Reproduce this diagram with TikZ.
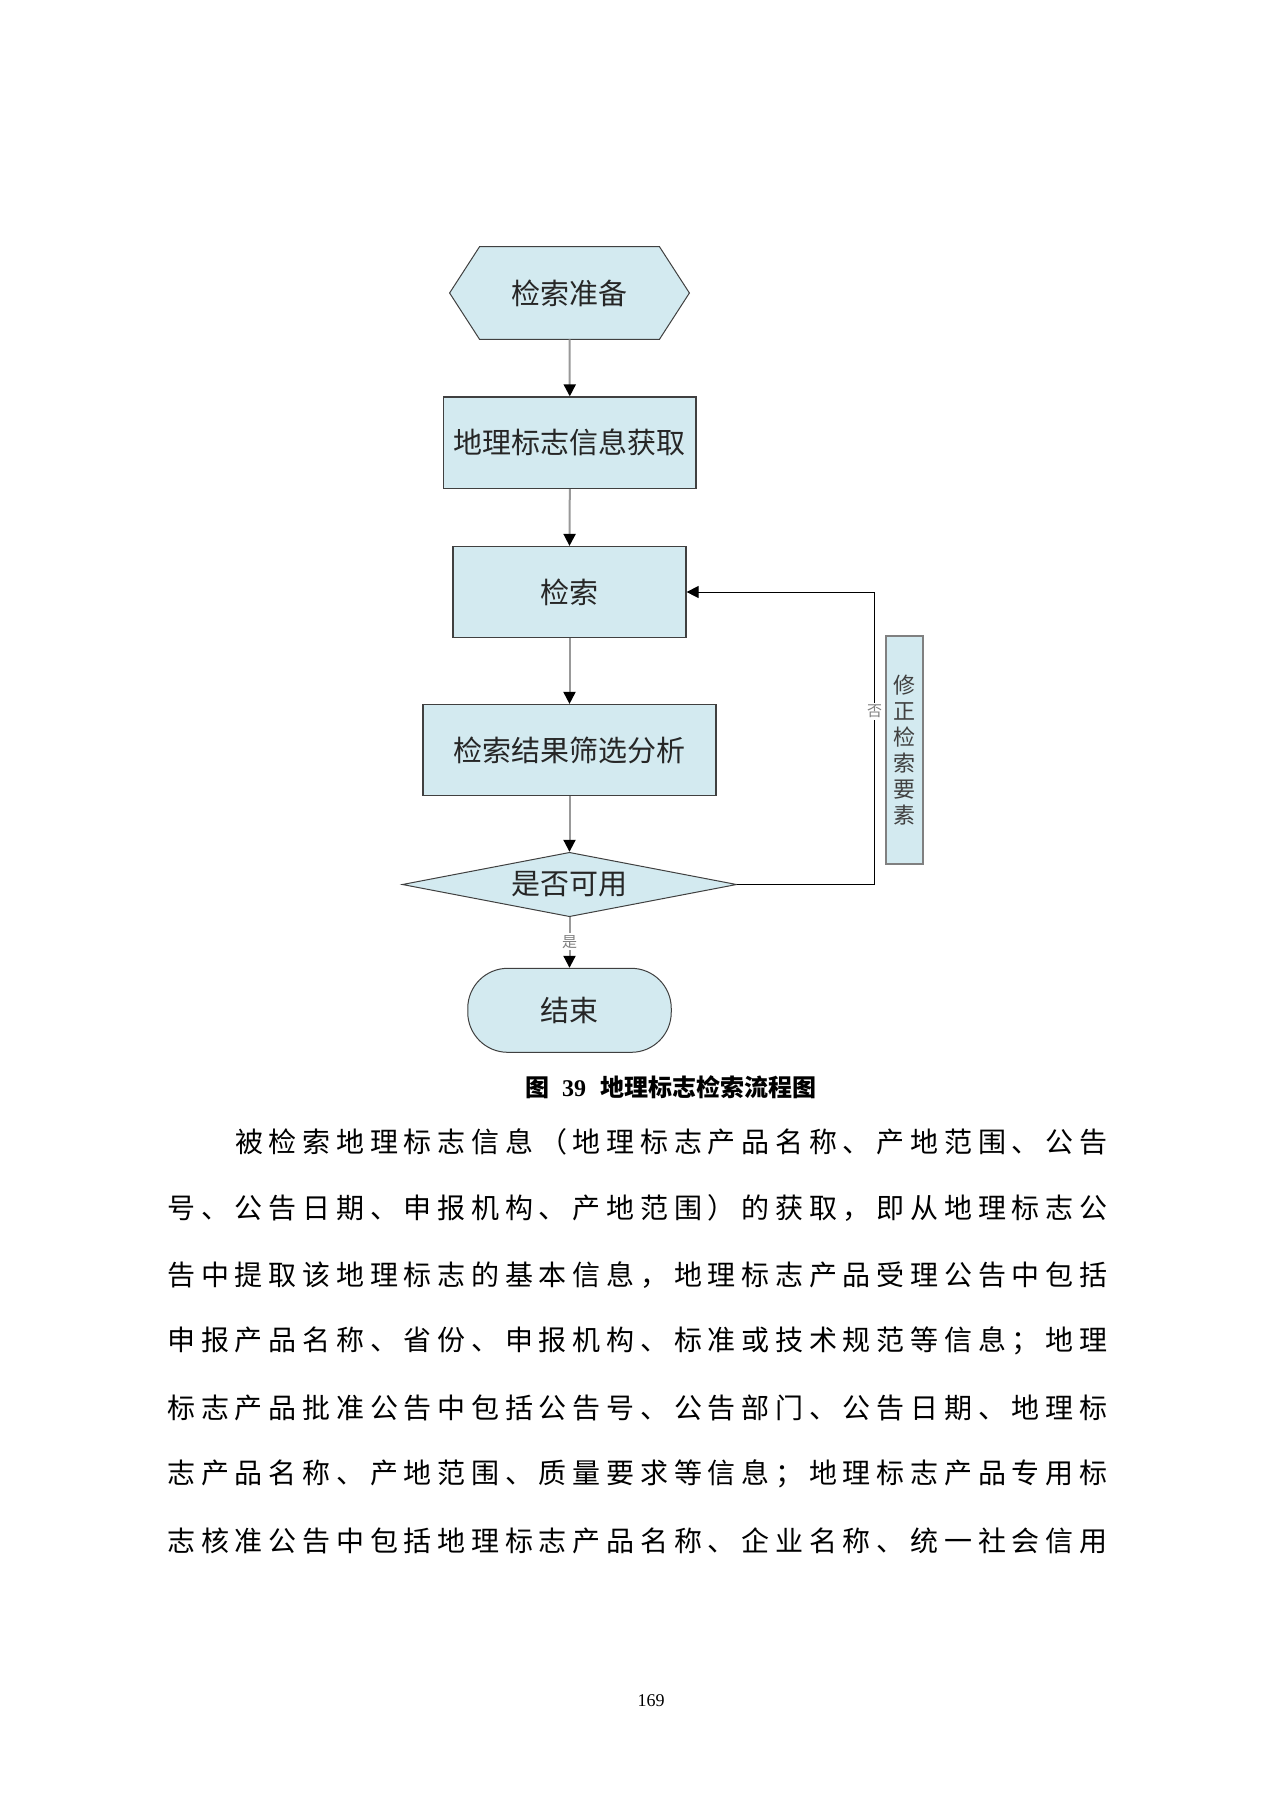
\documentclass[tikz,border=0pt]{standalone}
\usepackage{fontspec}
\setmainfont{Liberation Serif}
\newfontfamily\cjk{Noto Sans CJK SC}
\newfontfamily\tms{Liberation Serif}
\usetikzlibrary{arrows.meta,shapes.geometric,backgrounds}
\definecolor{boxfill}{HTML}{D3EAF0}
\definecolor{bdr}{HTML}{404040}
\definecolor{conn}{HTML}{999999}
\definecolor{lblgray}{HTML}{808080}
\def\spr#1{\ifx#1\relax\else#1\hfill\expandafter\spr\fi}
\newcommand\spreadline[2]{\hbox to #1{\spr#2\relax\unskip}}
\begin{document}
\begin{tikzpicture}[x=0.5pt,y=-0.5pt,
  boxtext/.style={font=\cjk\fontsize{14.5pt}{14.5pt}\selectfont, text=black!85},
  procbox/.style={boxtext, draw=bdr, line width=0.6pt, fill=boxfill, inner sep=0pt},
  flow/.style={draw=conn, line width=1pt, -{Triangle[width=6pt,length=6pt,color=black,fill=black]}},
  fb/.style={draw=black, line width=0.5pt, -{Triangle[width=6pt,length=6pt,color=black,fill=black]}},
  lbl/.style={fill=white, inner sep=1pt, text=lblgray, font=\cjk\fontsize{7.5pt}{7.5pt}\selectfont},
  bodyline/.style={anchor=west, inner sep=0pt, font=\cjk\fontsize{14pt}{14pt}\selectfont, text=black},
]
\begin{pgfonlayer}{background}
\fill[white] (0,0) rectangle (1280,1810);
\end{pgfonlayer}
\useasboundingbox (0,0) rectangle (1280,1810);

% start hexagon
\node[boxtext, minimum width=119.5pt, minimum height=46pt, inner sep=0pt] (hex) at (569.5,293) {检索准备};
\begin{pgfonlayer}{background}
\draw[draw=bdr, line width=0.5pt, fill=boxfill] (hex.west) -- ([xshift=15pt]hex.north west) -- ([xshift=-15pt]hex.north east) -- (hex.east) -- ([xshift=-15pt]hex.south east) -- ([xshift=15pt]hex.south west) -- cycle;
\end{pgfonlayer}

\node[procbox, minimum width=126.25pt, minimum height=45.75pt] (b2) at (569.8,442.7) {地理标志信息获取};
\node[procbox, minimum width=116.5pt, minimum height=45.5pt] (b3) at (569.5,592) {检索};
\node[procbox, minimum width=146.5pt, minimum height=45.5pt] (b4) at (569.5,750) {检索结果筛选分析};
\node[boxtext, diamond, aspect=5.2, draw=bdr, line width=0.5pt, fill=boxfill, inner sep=0pt, minimum width=167.25pt, minimum height=32.2pt] (dia) at (569.5,884.5) {是否可用};
\node[boxtext, draw=bdr, line width=0.5pt, fill=boxfill, rounded corners=20pt, inner sep=0pt, minimum width=101.75pt, minimum height=42pt] (end) at (569.5,1010.3) {结束};
\node[draw=lblgray, line width=1pt, fill=boxfill, inner sep=0pt, minimum width=18.35pt, minimum height=114.15pt, align=center, text=black!75, font=\cjk\fontsize{11pt}{13pt}\selectfont] (fix) at (904.7,750) {修\\正\\检\\索\\要\\素};

\draw[flow] (hex.south) -- (b2.north);
\draw[flow] (b2.south) -- (b3.north);
\draw[flow] (b3.south) -- (b4.north);
\draw[flow] (b4.south) -- (dia.north);
\draw[flow] (dia.south) -- (end.north);
\node[lbl] (yes) at (569.5,941.7) {是};

\coordinate (fbx) at (874.5,0);
\draw[fb] (dia.east) -- (dia.east -| fbx) -- (b3.east -| fbx) -- (b3.east);
\node[lbl] (no) at (874.5,711.7) {否};

% caption
\node[inner sep=0pt, font=\cjk\bfseries\fontsize{12pt}{12pt}\selectfont] (cap) at (662.5,1087) {图\hspace{6.5pt}{\tms\bfseries 39}\hspace{7pt}\spreadline{100pt}{地理标志检索流程图}};

% body text
\node[bodyline] (t1) at (234.7,1142) {\spreadline{436.15pt}{被检索地理标志信息（地理标志产品名称、产地范围、公告}};
\node[bodyline] (t2) at (167,1208.4) {\spreadline{470pt}{号、公告日期、申报机构、产地范围）的获取，即从地理标志公}};
\node[bodyline] (t3) at (167,1274.8) {\spreadline{470pt}{告中提取该地理标志的基本信息，地理标志产品受理公告中包括}};
\node[bodyline] (t4) at (167,1341.2) {\spreadline{470pt}{申报产品名称、省份、申报机构、标准或技术规范等信息；地理}};
\node[bodyline] (t5) at (167,1407.6) {\spreadline{470pt}{标志产品批准公告中包括公告号、公告部门、公告日期、地理标}};
\node[bodyline] (t6) at (167,1474) {\spreadline{470pt}{志产品名称、产地范围、质量要求等信息；地理标志产品专用标}};
\node[bodyline] (t7) at (167,1540.4) {\spreadline{470pt}{志核准公告中包括地理标志产品名称、企业名称、统一社会信用}};

% page number
\node[inner sep=0pt, font=\tms\fontsize{9pt}{9pt}\selectfont] (pg) at (651,1701) {169};
\end{tikzpicture}
\end{document}
